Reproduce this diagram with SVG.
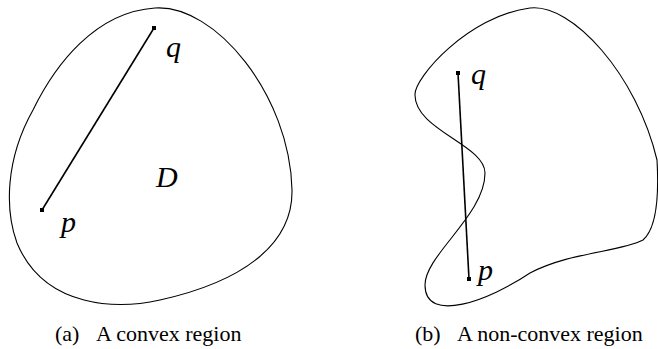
<svg xmlns="http://www.w3.org/2000/svg" width="658" height="349" viewBox="0 0 658 349">
<defs>
<rect id="pt" x="-2" y="-2" width="4" height="4" fill="#000"/>
</defs>
<rect width="658" height="349" fill="#fff"/>
<g id="convex-region">
<path fill="none" stroke="#000" stroke-width="1.1" d="M155,8 C215,4 290,95 292,190 C293,240 250,280 160,300 C120,309 45,310 17,243 C5,210 5,160 33,110 C55,65 95,12 155,8 Z"/>
<text font-family="Times New Roman, Liberation Serif, serif" font-style="italic" font-size="30" x="156" y="187">D</text>
</g>
<g id="convex-q">
<use href="#pt" x="154" y="28"/>
<text font-family="Times New Roman, Liberation Serif, serif" font-style="italic" font-size="30" x="166" y="57">q</text>
</g>
<g id="convex-p">
<use href="#pt" x="42" y="210"/>
<text font-family="Times New Roman, Liberation Serif, serif" font-style="italic" font-size="30" x="61" y="232">p</text>
</g>
<g id="nonconvex-region">
<path fill="none" stroke="#000" stroke-width="1.1" d="M530,8 C572,3 637,75 657,160 C659,195 657,228 643,240 C620,252 570,252 530,273 C490,300 425,325 425,285 C425,255 485,215 485,173 C485,145 415,130 415,95 C414,78 468,16 530,8 Z"/>
</g>
<g id="nonconvex-q">
<use href="#pt" x="458" y="73"/>
<text font-family="Times New Roman, Liberation Serif, serif" font-style="italic" font-size="30" x="471" y="84">q</text>
</g>
<g id="nonconvex-p">
<use href="#pt" x="469" y="279"/>
<text font-family="Times New Roman, Liberation Serif, serif" font-style="italic" font-size="30" x="478" y="280">p</text>
</g>
<g id="connectors" stroke="#000" stroke-width="1.6">
<line x1="154" y1="28" x2="42" y2="210"/>
<line x1="458" y1="73" x2="469" y2="279"/>
</g>
<g id="captions" fill="#000">
<text font-family="Times New Roman, Liberation Serif, serif" font-size="22" x="55" y="341">(a)</text>
<text font-family="Times New Roman, Liberation Serif, serif" font-size="22" x="96" y="341">A convex region</text>
<text font-family="Times New Roman, Liberation Serif, serif" font-size="22" x="415" y="341">(b)</text>
<text font-family="Times New Roman, Liberation Serif, serif" font-size="22" x="457" y="341">A non-convex region</text>
</g>
</svg>
